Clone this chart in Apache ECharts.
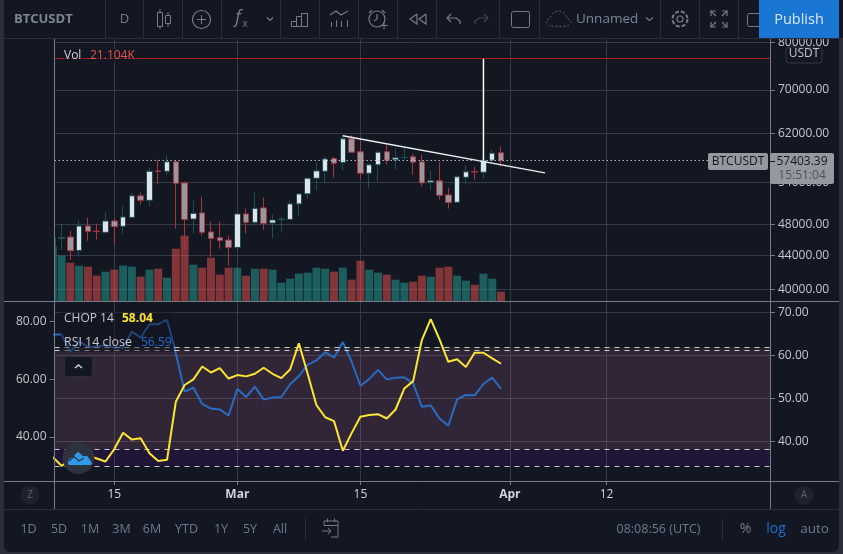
<!DOCTYPE html>
<html><head><meta charset="utf-8">
<style>html,body{margin:0;padding:0;background:#2a2e39;overflow:hidden}
#panel{position:absolute;left:4px;top:0;width:835px;height:552px;background:#131722;border-radius:0 0 6px 6px}
#c{position:absolute;left:0;top:0;width:843px;height:554px}</style>
<script src="https://cdn.jsdelivr.net/npm/echarts@6/dist/echarts.min.js"></script>
</head><body><div id="panel"></div><div id="c"></div>
<script>
const firstDay = '2021-02-08';
const opens  = [44980,46200,46350,44640,47810,47115,46960,48480,47760,48970,52020,51370,55790,55730,57220,53940,48750,49590,47010,46260,45960,45020,49450,48290,50290,48210,48660,48690,50860,52310,54650,55730,57760,57110,61040,58860,55420,56750,58860,57540,57920,58040,57220,53990,54250,52160,51090,54800,55690,55580,57480,58690];
const closes = [46260,46260,44600,47800,47090,47050,48480,47720,49030,52020,51370,55730,55730,57220,53880,48690,49530,46960,46170,45910,45020,49450,48290,50230,48160,48620,48730,50860,52300,54650,55790,57700,56990,61040,58790,55420,56750,58790,57480,57870,57960,57160,53940,54250,52090,51050,54870,55640,55610,57480,58630,57403];
const lows   = [44800,44730,43480,43850,45870,46000,46790,45360,46790,48830,50760,50480,53690,55220,47450,44720,46790,46530,43850,44850,42770,44720,46790,47850,47310,46130,46920,48650,49070,51620,52790,53950,54760,55840,58740,54440,53090,54140,56790,56000,57590,55220,53390,52840,51470,50190,51050,53690,54440,54590,56990,56480];
const highs  = [46260,48120,47180,48650,48920,48120,49630,48880,50620,52500,52500,56310,57590,58250,57430,54140,51330,51910,48390,48390,46530,49490,50190,52640,51760,49350,49070,51330,52350,54760,57160,58030,58030,61790,61620,60750,56790,58910,60080,59450,59620,58530,58410,55840,57160,53240,55070,56640,56480,57590,59230,59740];
const volumes= [123.7,102.5,86.7,79.9,77.7,57.3,66.4,70.9,79.9,77.7,55,70.9,73.1,52.8,118.4,147.8,82.2,75.4,98,59.6,75.4,75.4,57.3,73.1,73.1,70.9,41.5,50.5,61.8,64.1,75.4,73.1,66.4,75.4,48.3,91.2,70.9,64.1,59.6,48.3,41.5,43.7,57.3,55,75.4,77.7,57.3,46,36.9,61.8,50.5,21.104];
const rsi    = [75.4,75.4,69.5,73,71.2,71.1,71.8,70.9,70.9,76.4,74.3,79,79,80.5,68.9,55.7,57,51.4,49.8,49.5,47.4,56.6,53.8,57.4,52.9,53.6,53.8,58.2,61.1,64.9,66.5,69.3,67.4,72.8,66,57.7,60,63.2,59.9,60.5,60.6,58.5,50.4,50.9,46.4,43.9,53,54.5,54.4,58.3,60.5,56.59];
const chop   = [36.3,34.3,35.7,36.4,36.8,36,35.3,38.2,42,40.4,40.7,37.2,35.4,35.7,49.2,53.1,54.4,57.4,56,57,54.6,55.4,55.1,55.7,57.1,55.7,54.7,56.7,62.8,55.7,48.4,45.6,44.7,37.8,41.9,45.7,46.1,46.3,45.3,47.4,52.3,54,63.6,68.4,63.7,58.5,59.1,57.3,60.6,60.6,59.3,58.04];
const tickDays   = [7,21,35,52,63];
const tickLabels = ['15','Mar','15','Apr','12'];
const priceTicks = [40000,44000,48000,54000,62000,70000,80000];
const rsiTicks   = [40,60,80];
const chopTicks  = [40,50,60,70];
const trendLine  = [[33,61560],[56,55480]];
const spikeLine  = [[49,57480],[49,76400]];
const redLevel   = 76486;
const lastPrice  = 57403;

const FONT = '"Open Sans","Noto Sans",sans-serif';
const UP='#e0e3eb', DOWN='#9598a1', UPB='#1c4f52', DOWNB='#ab343a';
const GRID='#363a45', AX='#787b86', TXT='#c4c7cf', ICON='#787b86';
const idx = opens.map((_,i)=>i);
const candles = idx.map(i=>[i,opens[i],closes[i],lows[i],highs[i]]);
const vols = idx.map(i=>({value:[i,volumes[i]],itemStyle:{color:closes[i]>=opens[i]?'rgba(38,166,154,.5)':'rgba(239,83,80,.5)'}}));
const xMin=0.197, xMax=81.6;

function T(text,x,y,fill,size,o={}){return {type:'text',z:o.z||120,style:{text,x,y,fill,
  font:`${o.style||'normal'} ${o.weight||'normal'} ${size}px ${FONT}`,align:o.align||'center',textAlign:o.align||'center',verticalAlign:'middle',textVerticalAlign:'middle',
  backgroundColor:o.bg,padding:o.pad}};}
function R(x,y,w,h,fill,o={}){return {type:'rect',z:o.z||110,shape:{x,y,width:w,height:h,r:o.r||0},style:{fill:fill,stroke:o.stroke||null,lineWidth:o.lw||1,lineDash:o.dash}};}
function L(x1,y1,x2,y2,c,o={}){return {type:'line',z:o.z||110,shape:{x1,y1,x2,y2},style:{stroke:c,lineWidth:o.lw||1}};}
function P(points,c,o={}){return {type:'polyline',z:o.z||120,shape:{points,smooth:o.smooth||0},style:{stroke:c,fill:null,lineWidth:o.lw||1.2,lineDash:o.dash}};}
function C(cx,cy,r,o={}){return {type:'circle',z:o.z||120,shape:{cx,cy,r},style:{fill:o.fill||null,stroke:o.stroke||null,lineWidth:o.lw||1.2,lineDash:o.dash}};}

const chrome=[
  // left margin of the price pane
  R(4,38,50.5,263,'#131722',{z:50}),
  // toolbar
  R(0,0,843,38,'#131722',{z:105}), R(0,0,4,38,'#2a2e39',{z:106}), L(0,38.5,843,38.5,'#2a2e39',{z:106}),
  ...[105,143,182,221,280,319,358,397,436,499,539,660,699,738].map(x=>L(x+.5,0,x+.5,38,'#2a2e39')),
  T('BTCUSDT',14,19,'#7d8593',13,{align:'left',weight:'bold'}),
  T('D',124.5,19.5,ICON,13),
  // candles icon
  R(157.5,12.5,5,14,null,{stroke:ICON,z:120}), L(160,9,160,12.5,ICON,{z:120}), L(160,26.5,160,29,ICON,{z:120}),
  R(165.5,15.5,5,8,null,{stroke:ICON,z:120}), L(168,12,168,15.5,ICON,{z:120}), L(168,23.5,168,27,ICON,{z:120}),
  C(201.5,19.5,9,{stroke:ICON}), L(197,19.5,206,19.5,ICON,{z:120}), L(201.5,15,201.5,24,ICON,{z:120}),
  T('f',238,18,ICON,18,{style:'italic'}), T('x',245,24,ICON,10),
  P([[267,17.5],[270,20.5],[273,17.5]],ICON),
  R(291.5,21.5,5,5,null,{stroke:ICON,z:120}), R(296.5,16.5,5,10,null,{stroke:ICON,z:120}), R(301.5,13.5,6,13,null,{stroke:ICON,z:120}),
  P([[330,15],[336,11],[341,15],[348,11]],ICON),
  ...[331,336,341,347].map((x,i)=>L(x+.5,[22,20,21,20][i],x+.5,27,ICON,{z:120})),
  C(377,19,8,{stroke:ICON}), P([[369,13],[372,10]],ICON), P([[382,10],[385,13]],ICON), P([[377,14],[377,19],[374,21]],ICON),
  L(380,25.5,388,25.5,'#131722',{z:119,lw:4}), L(380,25.5,388,25.5,ICON,{z:120}), L(384,21.5,384,29.5,ICON,{z:120}),
  P([[417,14],[410,19],[417,24],[417,14]],ICON), P([[426,14],[419,19],[426,24],[426,14]],ICON),
  P([[451,14],[447,18],[451,22]],ICON), P([[447,18],[456,18],[460,21],[460,24]],ICON),
  P([[484,14],[488,18],[484,22]],'#434651'), P([[488,18],[479,18],[475,21],[475,24]],'#434651'),
  R(511.5,11.5,18,16,null,{stroke:ICON,r:2,z:120}),
  P([[550,26],[546,22],[550,18],[553,13],[559,11],[565,14],[567,18],[571,22],[567,26],[550,26]],'#5d606b',{lw:1,dash:[2,2],smooth:0.3}),
  T('Unnamed',576,19.5,'#7b8494',13.5,{align:'left'}),
  P([[646,17.5],[649.5,20.5],[653,17.5]],ICON),
  C(680,19,7.5,{stroke:ICON,lw:2,dash:[4,2]}), C(680,19,3,{stroke:ICON}),
  ...[[711,11,716,11,711,16],[727,11,722,11,727,16],[711,27,716,27,711,22],[727,27,722,27,727,22]].map(a=>P([[a[2],a[3]],[a[0],a[1]],[a[4],a[5]]],ICON)),
  P([[711,11],[716,16]],ICON),P([[727,11],[722,16]],ICON),P([[711,27],[716,22]],ICON),P([[727,27],[722,22]],ICON),
  R(747.5,13.5,18,13,null,{stroke:ICON,r:2,z:120}),
  R(759,0,80,38,'#1976d2',{z:125}), T('Publish',799,19.5,'#dde7f3',14.5,{z:126}),
  R(839,0,4,38,'#131722',{z:125}),
  // usdt box
  R(786,47,36,16,'#131722',{stroke:'#363a45',r:3,z:108}), T('USDT',804,54,TXT,12,{z:109}),
  // pane frame
  L(54.5,38,54.5,509,AX,{z:60}), L(770.5,38,770.5,509,AX,{z:60}),
  L(4,301.5,839,301.5,AX,{z:60}), L(4,481.5,839,481.5,AX,{z:60}), L(4,509.5,839,509.5,'#2a2e39',{z:60}),
  // price tags
  R(708,153,60,17,DOWN,{r:2,z:111}), T('BTCUSDT',738,161.5,'#131722',12,{z:112}),
  R(770,153,64,31,DOWN,{r:2,z:111}), L(770,161.5,775,161.5,'#131722',{z:112}),
  T('57403.39',802,161.5,'#131722',12,{z:112}), T('15:51:04',802,175.5,'#4d515c',12,{z:112}),
  // pane legends
  T('Vol',64,56,'#d1d4dc',12,{align:'left',bg:'rgba(19,23,34,.6)',pad:[1,2,1,0]}),
  T('21.104K',90,56,'#ef5350',12,{align:'left',bg:'rgba(19,23,34,.6)',pad:[1,2,1,0]}),
  R(60,312,114,40,'rgba(19,23,34,.45)',{z:70}),
  T('CHOP 14',64,319,TXT,12,{align:'left'}), T('58.04',122,319,'#fde632',12,{align:'left',weight:'bold'}),
  T('RSI 14 close',64,342.5,TXT,12.4,{align:'left'}), T('56.59',141,342.5,'#1e6fd0',12,{align:'left'}),
  R(64.5,356.5,28,20,'#131722',{stroke:'#2a2e39',r:3,z:112}), P([[75,368],[78.5,365],[82,368]],'#d1d4dc',{lw:1.5}),
  // logo
  C(78.5,458,16,{fill:'#2e323e',z:113}),
  {type:'polygon',z:120,shape:{points:[[68,464],[69,459],[73,457],[78,452],[83,456],[87,456],[90,460],[92,464],[90,465],[70,465]],smooth:0.2},style:{fill:'#2e9be8'}},
  P([[69,461],[74,456.5],[79,461],[84,458]],'#2e323e',{lw:1.2}),
  // Z / A
  C(30,495,9.5,{fill:'#1e222d',z:112}), T('Z',30,495,'#5d606b',10),
  C(804,495,9.5,{fill:'#1e222d',z:112}), T('A',804,495,'#5d606b',10),
  // bottom bar
  ...[['1D',28.5],['5D',59],['1M',90],['3M',121.5],['6M',152],['YTD',186.5],['1Y',221],['5Y',250],['All',280]].map(a=>T(a[0],a[1],529.5,'#6d7a8e',12.5)),
  L(305.5,518,305.5,541,'#2a2e39'),
  P([[324,525],[324,521],[338,521],[338,537],[331,537]],ICON,{lw:1}), L(324,525.5,338,525.5,ICON,{z:120}),
  L(327.5,518.5,327.5,522,ICON,{z:120}), L(334.5,518.5,334.5,522,ICON,{z:120}),
  P([[322,531],[331,531]],ICON,{lw:1}), P([[328,528],[331,531],[328,534]],ICON,{lw:1}),
  T('08:08:56 (UTC)',658.5,529.5,'#6d7a8e',12.5),
  L(722.5,518,722.5,541,'#2a2e39'),
  T('%',745.5,529.5,ICON,14), T('log',776,529.5,'#1e6fd0',14), T('auto',814.5,529.5,'#6d7a8e',13.5)
];

const chart = echarts.init(document.getElementById('c'),null,{renderer:'canvas'});
const hideAxis={axisLine:{show:false},axisTick:{show:false},axisLabel:{show:false},splitLine:{show:false}};
const dash=(v)=>({yAxis:v,lineStyle:{color:'#c9c9cf',type:[5,5],width:1}});
const yLabel=(vals)=>({customValues:vals,margin:8,padding:[2,0,0,0],fontFamily:FONT,fontSize:12,color:TXT,formatter:v=>Number(v).toFixed(2)});
chart.setOption({
  animation:false, backgroundColor:'transparent',
  grid:[{left:54.5,right:73,top:38,height:263,containLabel:false},{left:54.5,right:73,top:301,height:180}],
  xAxis:[
   {type:'value',gridIndex:0,min:xMin,max:xMax,axisLine:{show:false},axisLabel:{show:false},
    axisTick:{show:false,customValues:tickDays},splitLine:{show:true,lineStyle:{color:GRID,width:1}}},
   {type:'value',gridIndex:1,min:xMin,max:xMax,axisLine:{show:false},
    axisTick:{show:true,length:4,lineStyle:{color:AX},customValues:tickDays},
    splitLine:{show:true,lineStyle:{color:GRID,width:1}},
    axisLabel:{show:true,customValues:tickDays,margin:8,fontFamily:FONT,fontSize:12,color:'#d1d4dc',
      formatter:v=>{const s=tickLabels[tickDays.indexOf(v)];return /\d/.test(s)?s:'{m|'+s+'}';},
      rich:{m:{fontFamily:FONT,fontSize:12,fontWeight:'bold',color:'#d1d4dc'}}}}
  ],
  yAxis:[
   {type:'log',gridIndex:0,position:'right',min:38740,max:80970,axisLine:{show:false},
    axisTick:{show:true,length:5,lineStyle:{color:AX},customValues:priceTicks},
    splitLine:{show:true,lineStyle:{color:GRID,width:1}},axisLabel:yLabel(priceTicks)},
   {type:'value',gridIndex:0,min:0,max:595,...hideAxis},
   {type:'value',gridIndex:1,position:'left',min:24.74,max:87.02,axisLine:{show:false},
    axisTick:{show:true,length:5,lineStyle:{color:AX},customValues:rsiTicks},splitLine:{show:false},axisLabel:yLabel(rsiTicks)},
   {type:'value',gridIndex:1,position:'right',min:30.77,max:72.63,axisLine:{show:false},
    axisTick:{show:true,length:5,lineStyle:{color:AX},customValues:chopTicks},
    splitLine:{show:true,lineStyle:{color:GRID,width:1}},axisLabel:yLabel(chopTicks)}
  ],
  series:[
   {name:'Vol',type:'bar',xAxisIndex:0,yAxisIndex:1,barWidth:8,clip:true,data:vols,z:2},
   {name:'BTCUSDT',type:'candlestick',xAxisIndex:0,yAxisIndex:0,barWidth:6,clip:true,data:candles,z:3,
    itemStyle:{color:UP,color0:DOWN,borderColor:UPB,borderColor0:DOWNB,borderWidth:1},
    markLine:{silent:true,symbol:'none',label:{show:false},animation:false,data:[
      {yAxis:lastPrice,lineStyle:{color:'#b2b5be',type:[1.5,2.5],width:1}},
      {yAxis:redLevel,lineStyle:{color:'#b01c22',type:'solid',width:1.2}}]}},
   {name:'Spike',type:'line',xAxisIndex:0,yAxisIndex:0,data:spikeLine,showSymbol:false,z:4,lineStyle:{color:'#ffffff',width:1.5}},
   {name:'Trend',type:'line',xAxisIndex:0,yAxisIndex:0,data:trendLine,showSymbol:false,z:4,lineStyle:{color:'#eceef2',width:1.5}},
   {name:'RSI 14 close',type:'line',xAxisIndex:1,yAxisIndex:2,data:idx.map(i=>[i,rsi[i]]),showSymbol:false,z:4,lineStyle:{color:'#2a6bc0',width:2},
    markArea:{silent:true,itemStyle:{color:'rgba(153,21,255,.1)'},data:[[{yAxis:70},{yAxis:30}]]},
    markLine:{silent:true,symbol:'none',label:{show:false},data:[dash(70),dash(30)]}},
   {name:'CHOP 14',type:'line',xAxisIndex:1,yAxisIndex:3,data:idx.map(i=>[i,chop[i]]),showSymbol:false,z:5,lineStyle:{color:'#fde632',width:2},
    markArea:{silent:true,itemStyle:{color:'rgba(255,215,59,.08)'},data:[[{yAxis:61.8},{yAxis:38.2}]]},
    markLine:{silent:true,symbol:'none',label:{show:false},data:[dash(61.8),dash(38.2)]}}
  ],
  graphic:{elements:chrome}
});
</script></body></html>
